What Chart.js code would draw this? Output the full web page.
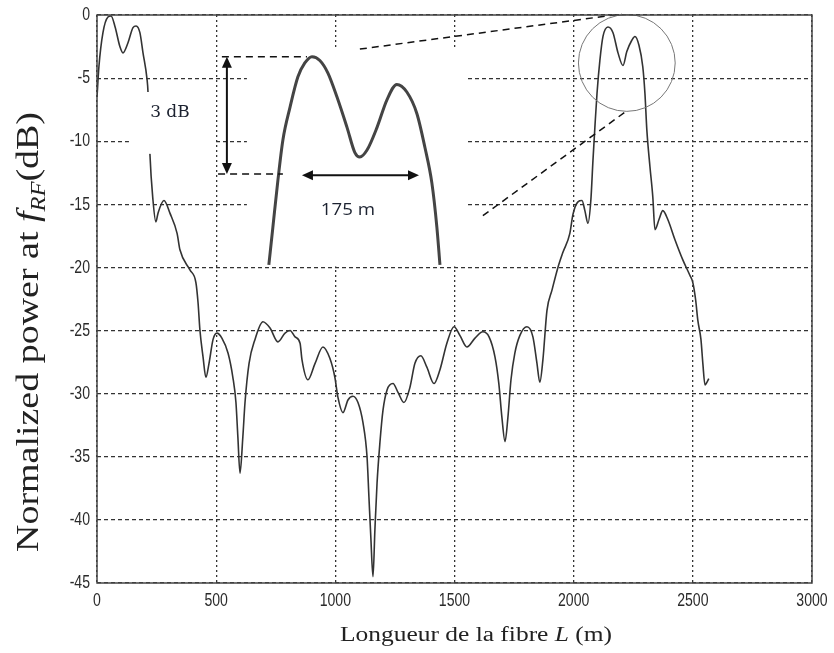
<!DOCTYPE html>
<html>
<head>
<meta charset="utf-8">
<script src="https://cdn.jsdelivr.net/npm/chart.js@4.4.1/dist/chart.umd.min.js"></script>
<style>
  html, body { margin: 0; background: #fff; }
  #wrap { width: 834px; height: 653px; }
</style>
</head>
<body>
<div id="wrap"><canvas id="c"></canvas></div>
<script>
// axis ticks
const xTicks = [0, 500, 1000, 1500, 2000, 2500, 3000];
const yTicks = [0, -5, -10, -15, -20, -25, -30, -35, -40, -45];

// main trace: normalized power vs fibre length
const lengthM = [0, 8, 25, 46, 59, 76, 96, 109, 130, 151, 164, 180, 193, 210, 214, 222, 235, 247, 256, 281,
  306, 336, 348, 390, 415, 424, 432, 445, 457, 470, 487, 503, 524, 550, 570, 583, 591, 600, 612, 621,
  638, 663, 696, 726, 759, 789, 810, 831, 852, 860, 885, 915, 948, 977, 998, 1011, 1032, 1053, 1074, 1095,
  1116, 1133, 1141, 1149, 1158, 1166, 1175, 1187, 1200, 1217, 1242, 1263, 1288, 1313, 1334, 1359, 1384, 1414, 1439, 1468,
  1498, 1523, 1552, 1586, 1619, 1645, 1670, 1686, 1699, 1712, 1724, 1737, 1753, 1774, 1804, 1829, 1846, 1858, 1871, 1888,
  1909, 1934, 1955, 1984, 1997, 2018, 2035, 2047, 2060, 2072, 2081, 2089, 2098, 2110, 2123, 2144, 2165, 2186, 2207, 2223,
  2244, 2257, 2274, 2290, 2299, 2307, 2320, 2332, 2341, 2358, 2374, 2395, 2425, 2458, 2487, 2500, 2512, 2521, 2534, 2542,
  2551, 2559, 2567];
const powerDb = [-6.5, -4.1, -1.4, -0.16, -0.08, -0.95, -2.5, -3.0, -2.2, -1.0, -0.87, -1.4, -3.0, -5.1, -6.1, -11.0, -14.7, -16.4, -15.7, -14.7,
  -15.7, -17.3, -18.6, -20.2, -21.2, -22.8, -25.0, -27.1, -28.7, -27.6, -25.7, -25.2, -25.6, -26.8, -28.7, -30.7, -33.4, -36.3, -33.4, -30.7,
  -27.6, -25.7, -24.3, -24.8, -25.9, -25.2, -25.0, -25.5, -26.0, -27.3, -28.9, -27.6, -26.3, -27.2, -28.7, -30.3, -31.5, -30.5, -30.2, -30.7,
  -32.3, -35.0, -38.2, -41.4, -44.5, -40.8, -37.1, -33.9, -31.3, -29.7, -29.2, -29.9, -30.7, -29.5, -27.6, -27.0, -27.9, -29.2, -28.1, -26.0,
  -24.7, -25.4, -26.3, -25.6, -25.1, -25.5, -27.1, -29.2, -31.9, -33.8, -31.9, -28.9, -26.8, -25.4, -24.7, -25.5, -27.6, -29.1, -27.3, -23.4,
  -21.8, -20.0, -18.8, -17.3, -15.8, -14.8, -14.7, -15.5, -16.5, -14.7, -11.5, -8.9, -6.2, -3.6, -1.7, -0.95, -1.4, -3.0, -4.0, -2.9,
  -2.0, -1.7, -2.4, -4.1, -6.2, -9.1, -12.0, -14.4, -17.0, -16.2, -15.5, -16.2, -17.8, -19.4, -20.6, -21.2, -22.6, -24.2, -25.7, -27.6,
  -29.3, -29.1, -28.8];

// magnified double peak drawn inside the inset
const zoomX = [721, 738, 759, 780, 810, 843, 872, 902, 935, 969, 1007, 1049, 1082, 1103, 1133, 1175, 1217, 1258, 1300, 1342, 1376, 1405, 1426, 1439];
const zoomY = [-19.8, -16.8, -13.1, -9.9, -7.3, -4.9, -3.8, -3.3, -3.6, -4.6, -6.5, -8.9, -10.9, -11.25, -10.7, -8.9, -6.7, -5.5, -6.1, -7.8, -10.5, -13.3, -16.8, -19.8];

// annotation anchors, in data units
const insetBox = { x0: 629, x1: 1552, y0: -2.77, y1: -20 };
const labelBox = { x0: 134, x1: 495, y0: -6.1, y1: -11.0 };
const circle = { x: 2223, y: -3.8, r: 203 };

const TICK_FONT = '19px "Liberation Sans", Arial, sans-serif';
const SERIF = '"Liberation Serif", "Times New Roman", serif';

function toPts(xs, ys) { return xs.map((x, i) => ({ x, y: ys[i] })); }

function squeezeText(ctx, txt, x, y, sx, align) {
  ctx.save();
  ctx.translate(x, y);
  ctx.scale(sx, 1);
  ctx.textAlign = align;
  ctx.fillText(txt, 0, 0);
  ctx.restore();
}

// draws segments with mixed fonts, stretched to a given length
function richText(ctx, segs, cx, cy, len, angle) {
  ctx.save();
  let w = 0;
  segs.forEach(s => { ctx.font = s.font; s.w = ctx.measureText(s.t).width; w += s.w; });
  ctx.translate(cx, cy);
  ctx.rotate(angle);
  ctx.scale(len / w, 1);
  ctx.textAlign = 'left';
  ctx.textBaseline = 'alphabetic';
  let x = -w / 2;
  segs.forEach(s => { ctx.font = s.font; ctx.fillText(s.t, x, s.dy || 0); x += s.w; });
  ctx.restore();
}

function arrowHead(ctx, x, y, ang) {
  const L = 11, H = 5;
  ctx.beginPath();
  ctx.moveTo(x, y);
  ctx.lineTo(x - L * Math.cos(ang) + H * Math.sin(ang), y - L * Math.sin(ang) - H * Math.cos(ang));
  ctx.lineTo(x - L * Math.cos(ang) - H * Math.sin(ang), y - L * Math.sin(ang) + H * Math.cos(ang));
  ctx.closePath();
  ctx.fill();
}

function doubleArrow(ctx, x1, y1, x2, y2) {
  const ang = Math.atan2(y2 - y1, x2 - x1);
  ctx.beginPath();
  ctx.moveTo(x1 + 8 * Math.cos(ang), y1 + 8 * Math.sin(ang));
  ctx.lineTo(x2 - 8 * Math.cos(ang), y2 - 8 * Math.sin(ang));
  ctx.stroke();
  arrowHead(ctx, x2, y2, ang);
  arrowHead(ctx, x1, y1, ang + Math.PI);
}

const insetPlugin = {
  id: 'inset',
  beforeDatasetsDraw(chart) {
    const { ctx, scales: { x, y } } = chart;
    ctx.save();
    ctx.fillStyle = '#fff';
    const px0 = x.getPixelForValue(insetBox.x0), px1 = x.getPixelForValue(insetBox.x1);
    const py0 = y.getPixelForValue(insetBox.y0), py1 = y.getPixelForValue(insetBox.y1);
    ctx.fillRect(px0, py0, px1 - px0, py1 - py0 - 1);
    ctx.restore();
  },
  afterDraw(chart) {
    const { ctx, chartArea: a, scales: { x, y } } = chart;
    const X = v => x.getPixelForValue(v), Y = v => y.getPixelForValue(v);
    ctx.save();

    // white patch behind the "3 dB" label
    ctx.fillStyle = '#fff';
    ctx.fillRect(X(labelBox.x0), Y(labelBox.y0), X(labelBox.x1) - X(labelBox.x0), Y(labelBox.y1) - Y(labelBox.y0));

    // dashed guide lines
    ctx.strokeStyle = '#111';
    ctx.lineWidth = 1.5;
    ctx.setLineDash([7, 5]);
    [[524, -3.3, 881, -3.3], [508, -12.6, 780, -12.6], [1103, -2.7, 2202, 0.08], [1619, -15.9, 2215, -7.7]]
      .forEach(([x1, y1, x2, y2]) => { ctx.beginPath(); ctx.moveTo(X(x1), Y(y1)); ctx.lineTo(X(x2), Y(y2)); ctx.stroke(); });
    ctx.setLineDash([]);

    // arrows
    ctx.fillStyle = '#111';
    ctx.lineWidth = 2;
    doubleArrow(ctx, X(545), Y(-3.3), X(545), Y(-12.6));
    doubleArrow(ctx, X(860), Y(-12.7), X(1351), Y(-12.7));

    // circle around the peak
    ctx.strokeStyle = '#777';
    ctx.lineWidth = 1;
    ctx.beginPath();
    ctx.arc(X(circle.x), Y(circle.y), X(circle.r) - X(0), 0, Math.PI * 2);
    ctx.stroke();

    // annotation texts
    ctx.fillStyle = '#1c2230';
    ctx.textBaseline = 'middle';
    ctx.font = '17px "DejaVu Serif", serif';
    squeezeText(ctx, '3 dB', X(306), Y(-7.7), 1.0, 'center');
    ctx.font = '17px "Open Sans", sans-serif';
    squeezeText(ctx, '175 m', X(1053), Y(-15.45), 1.1, 'center');

    // frame
    ctx.strokeStyle = '#444';
    ctx.lineWidth = 1.5;
    ctx.strokeRect(a.left, a.top, a.right - a.left, a.bottom - a.top);

    // tick labels
    ctx.fillStyle = '#2a2a2a';
    ctx.font = TICK_FONT;
    ctx.textBaseline = 'middle';
    yTicks.forEach(v => squeezeText(ctx, String(v), a.left - 7, Y(v), 0.74, 'right'));
    ctx.textBaseline = 'top';
    xTicks.forEach(v => squeezeText(ctx, String(v), X(v), a.bottom + 8, 0.74, 'center'));

    // axis titles
    ctx.fillStyle = '#222';
    richText(ctx, [
      { t: 'Normalized power at ', font: '31px ' + SERIF },
      { t: 'f', font: 'italic 31px ' + SERIF },
      { t: 'RF', font: 'italic 20px ' + SERIF, dy: 7 },
      { t: '(dB)', font: '31px ' + SERIF }
    ], 38, 332, 440, -Math.PI / 2);
    richText(ctx, [
      { t: 'Longueur de la fibre ', font: '20px ' + SERIF },
      { t: 'L', font: 'italic 20px ' + SERIF },
      { t: ' (m)', font: '20px ' + SERIF }
    ], 476, 641, 272, 0);
    ctx.restore();
  }
};

new Chart(document.getElementById('c'), {
  type: 'line',
  data: {
    datasets: [
      {
        data: toPts(lengthM, powerDb),
        borderColor: '#333',
        borderWidth: 1.6,
        pointRadius: 0,
        cubicInterpolationMode: 'monotone'
      },
      {
        data: toPts(zoomX, zoomY),
        borderColor: '#444',
        borderWidth: 3,
        pointRadius: 0,
        cubicInterpolationMode: 'monotone'
      }
    ]
  },
  options: {
    responsive: true,
    maintainAspectRatio: false,
    animation: false,
    layout: { padding: { top: 15, right: 22, left: 0, bottom: 0 } },
    plugins: { legend: { display: false }, tooltip: { enabled: false } },
    scales: {
      x: {
        type: 'linear', min: 0, max: 3000,
        afterBuildTicks: s => { s.ticks = xTicks.map(v => ({ value: v })); },
        afterFit: s => { s.height = 70; },
        ticks: { display: false },
        grid: { color: '#333', lineWidth: 1.3, drawTicks: false },
        border: { display: false, dash: [2, 3] }
      },
      y: {
        type: 'linear', min: -45, max: 0,
        afterBuildTicks: s => { s.ticks = yTicks.map(v => ({ value: v })); },
        afterFit: s => { s.width = 97; },
        ticks: { display: false },
        grid: { color: '#333', lineWidth: 1.2, drawTicks: false },
        border: { display: false, dash: [4, 3] }
      }
    }
  },
  plugins: [insetPlugin]
});
</script>
</body>
</html>
